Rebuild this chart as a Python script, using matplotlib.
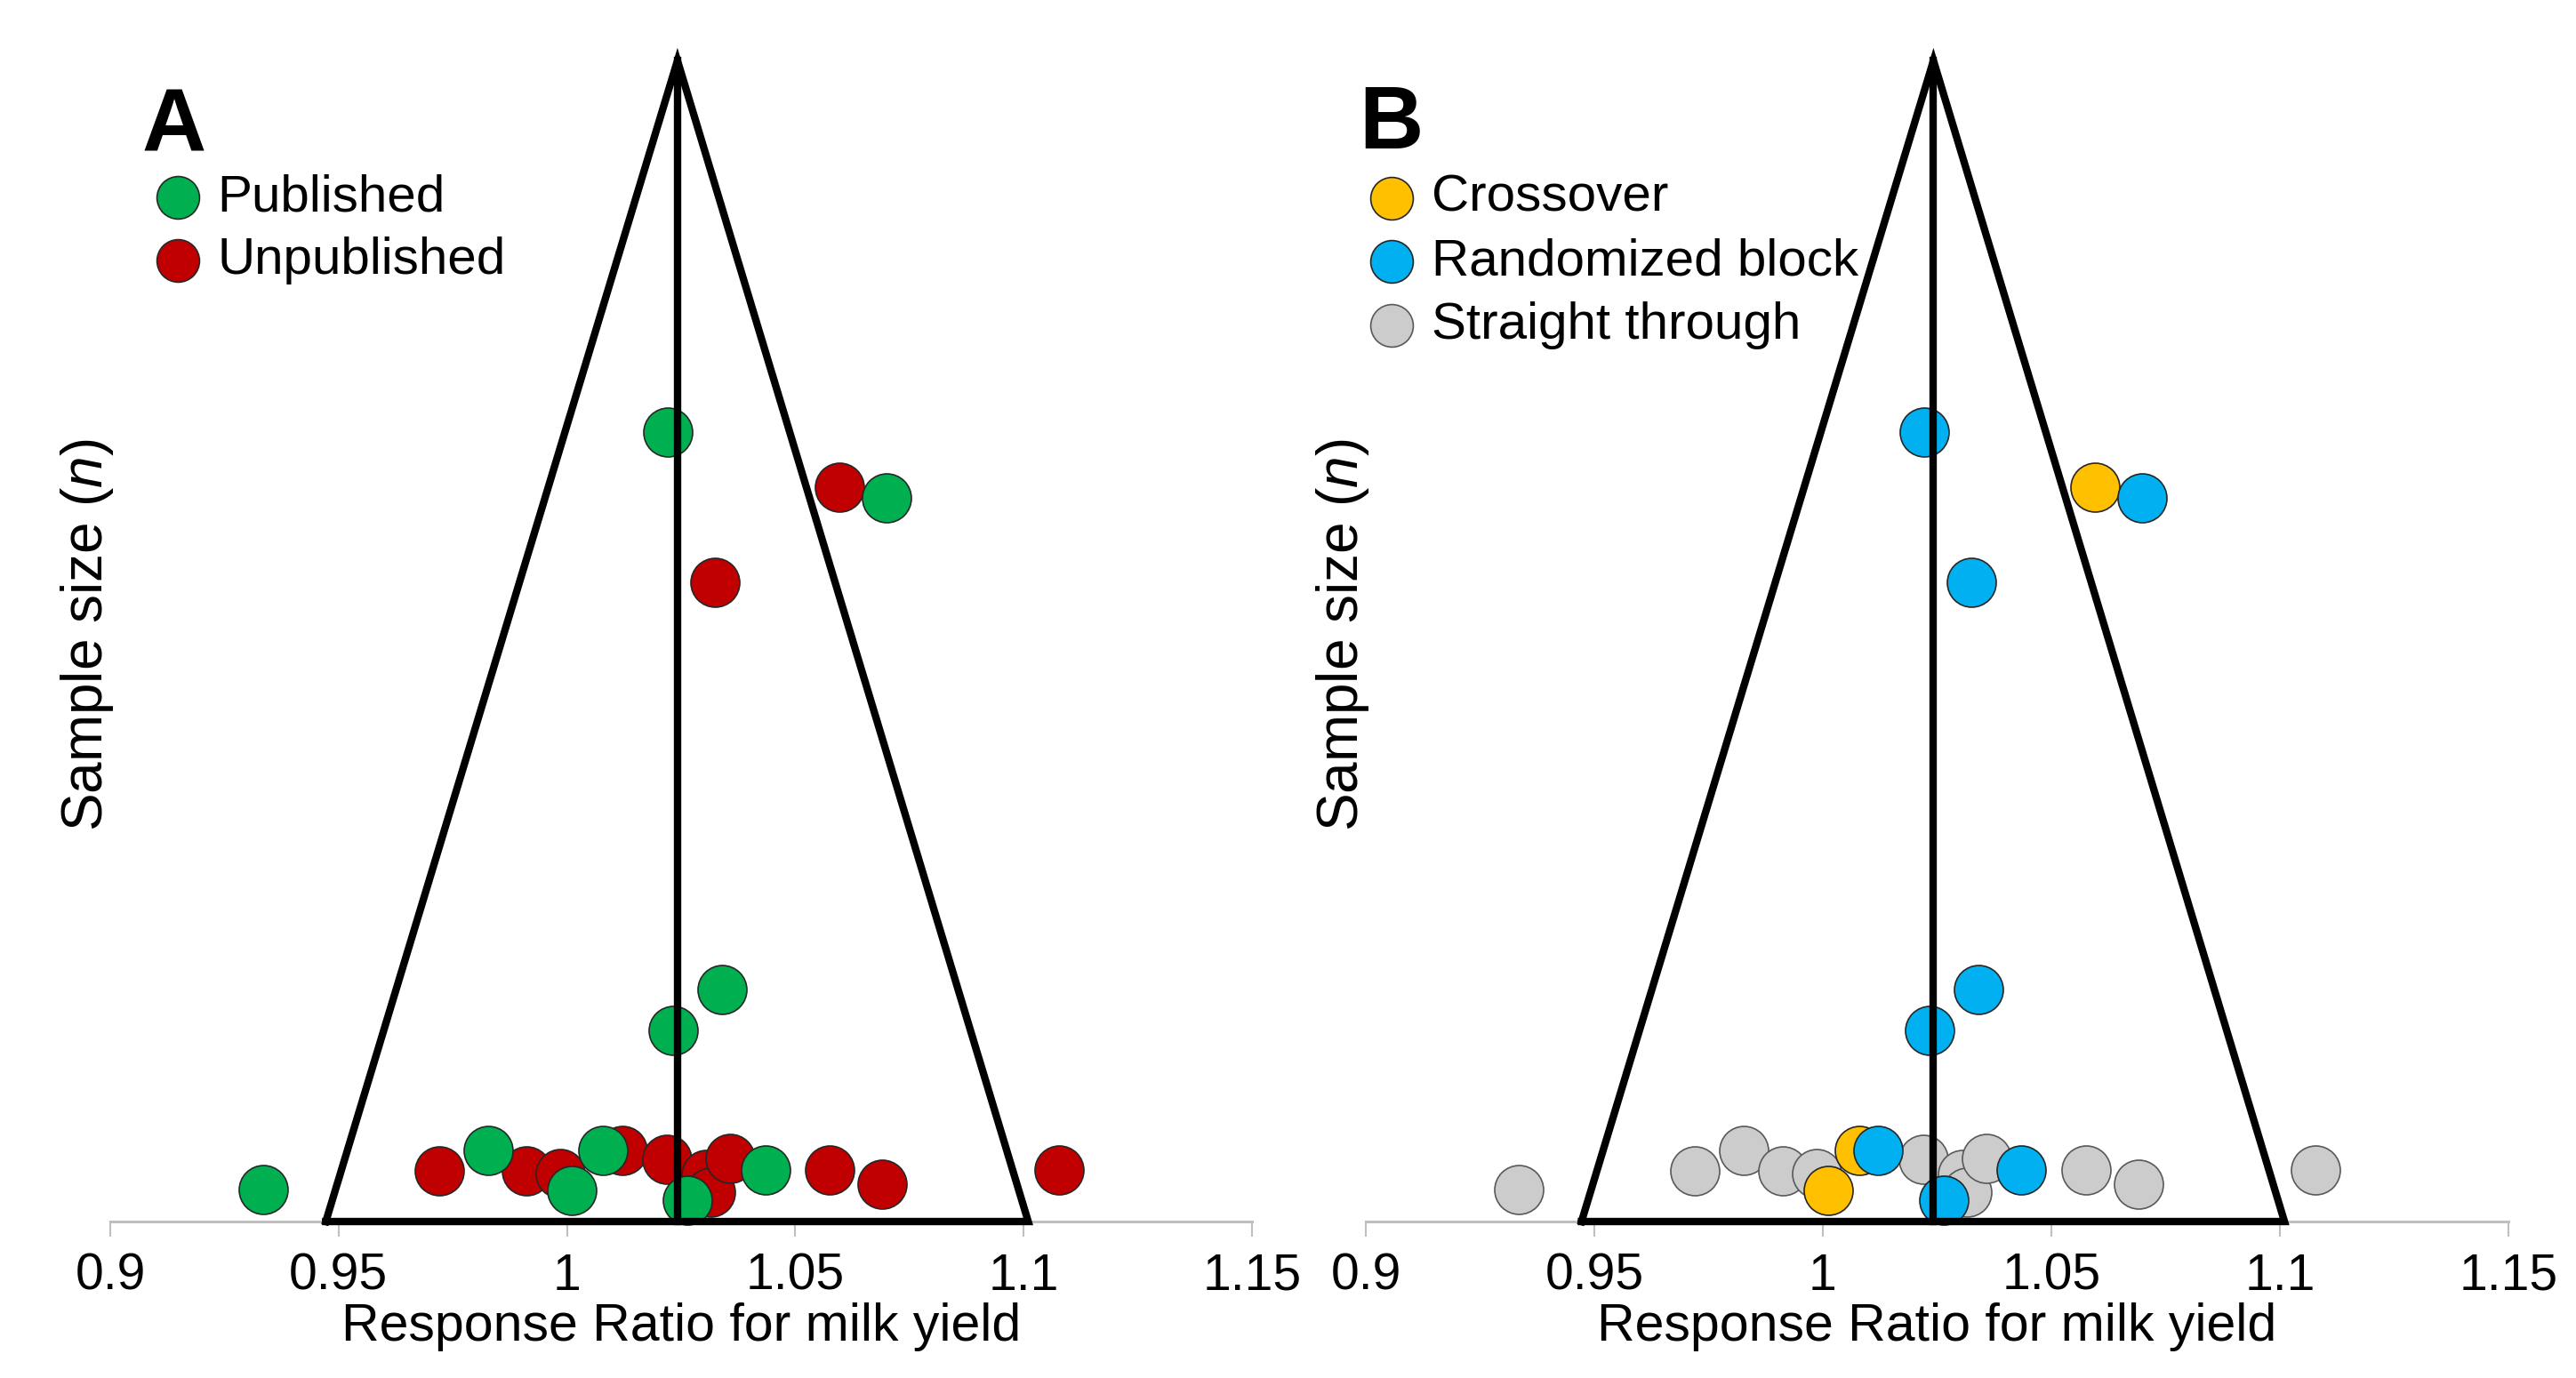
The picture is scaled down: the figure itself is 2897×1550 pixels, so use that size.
import matplotlib
matplotlib.use("Agg")
import matplotlib.pyplot as plt

# ---------------- data ----------------
rr = [1.0221, 1.0596, 1.0699, 1.0324, 1.0340, 1.0233,
      0.9334, 0.9827, 1.0011, 1.0079, 1.0264, 1.0434,
      0.9720, 0.9912, 0.9986, 1.0121, 1.0219, 1.0305, 1.0315, 1.0358,
      1.0576, 1.0691, 1.1078]
n = [67.3, 62.6, 61.7, 54.5, 19.8, 16.3,
     2.7, 6.1, 2.65, 6.1, 1.8, 4.4,
     4.3, 4.3, 4.1, 6.1, 5.3, 4.0, 2.5, 5.4,
     4.4, 3.2, 4.4]
publication = ["Published", "Unpublished", "Published", "Unpublished", "Published", "Published",
               "Published", "Published", "Published", "Published", "Published", "Published",
               "Unpublished", "Unpublished", "Unpublished", "Unpublished", "Unpublished",
               "Unpublished", "Unpublished", "Unpublished", "Unpublished", "Unpublished",
               "Unpublished"]
design = ["Randomized block", "Crossover", "Randomized block", "Randomized block",
          "Randomized block", "Randomized block",
          "Straight through", "Straight through", "Crossover", "Crossover",
          "Randomized block", "Randomized block",
          "Straight through", "Straight through", "Straight through", "Randomized block",
          "Straight through", "Straight through", "Straight through", "Straight through",
          "Straight through", "Straight through", "Straight through"]

# funnel (pooled estimate and limits at the base)
funnel_center = 1.0242
funnel_low = 0.9472
funnel_high = 1.1010
funnel_top = 99.0

xticks = [0.9, 0.95, 1.0, 1.05, 1.1, 1.15]
xtick_labels = ["0.9", "0.95", "1", "1.05", "1.1", "1.15"]

pub_order = ["Unpublished", "Published"]
pub_legend = ["Published", "Unpublished"]
pub_colors = {"Published": "#00B050", "Unpublished": "#C00000"}

des_order = ["Straight through", "Crossover", "Randomized block"]
des_legend = ["Crossover", "Randomized block", "Straight through"]
des_colors = {"Crossover": "#FFC000", "Randomized block": "#00B0F0",
              "Straight through": "#CCCCCC"}

# ---------------- style ----------------
plt.rcParams["font.family"] = ["Liberation Sans", "DejaVu Sans"]
plt.rcParams["mathtext.fontset"] = "custom"
plt.rcParams["mathtext.rm"] = "Liberation Sans"
plt.rcParams["mathtext.it"] = "Liberation Sans:italic"

W, H = 2897, 1550
fig = plt.figure(figsize=(W / 100, H / 100), dpi=100)
axA = fig.add_axes([124 / W, 176 / H, 1284 / W, 1319 / H])
axB = fig.add_axes([1536 / W, 176 / H, 1285 / W, 1319 / H])

MS = 1568  # marker area in pt^2


def setup(ax):
    ax.set_xlim(0.9, 1.15)
    ax.set_ylim(0, 100)
    for s in ["top", "right", "left"]:
        ax.spines[s].set_visible(False)
    ax.spines["bottom"].set_color("#BFBFBF")
    ax.spines["bottom"].set_linewidth(2.2)
    ax.set_yticks([])
    ax.set_xticks(xticks)
    ax.set_xticklabels(xtick_labels, fontsize=41)
    ax.tick_params(axis="x", direction="out", length=12, width=1.5,
                   color="#BFBFBF", pad=13)
    ax.set_xlabel("Response Ratio for milk yield", fontsize=42.5, labelpad=2)
    ax.set_ylabel("Sample size ($\\mathit{n}$)", fontsize=46)
    ax.yaxis.set_label_coords(0.005, 0.5)
    ax.plot([funnel_low, funnel_center, funnel_high, funnel_low],
            [0, funnel_top, 0, 0], color="black", lw=6,
            solid_joinstyle="miter", clip_on=False, zorder=5)
    ax.plot([funnel_center, funnel_center], [0, funnel_top], color="black",
            lw=6, clip_on=False, zorder=5)


def scatter_groups(ax, key, order, colors):
    handles = {}
    for cat in order:
        xs = [x for x, k in zip(rr, key) if k == cat]
        ys = [y for y, k in zip(n, key) if k == cat]
        edge = "#595959" if cat == "Straight through" else "#262626"
        h = ax.scatter(xs, ys, s=MS, c=colors[cat], edgecolors=edge,
                       linewidths=1.2, clip_on=False, zorder=3, label=cat)
        handles[cat] = h
    return handles


setup(axA)
setup(axB)

hA = scatter_groups(axA, publication, pub_order, pub_colors)
hB = scatter_groups(axB, design, des_order, des_colors)

legA = axA.legend([hA[c] for c in pub_legend], pub_legend, loc="upper left",
                  bbox_to_anchor=(174 / W, 1 - 195 / H),
                  bbox_transform=fig.transFigure, frameon=False, fontsize=42,
                  markerscale=0.87, handlelength=0.9, handletextpad=0.31,
                  labelspacing=0.3, borderpad=0, borderaxespad=0)
legB = axB.legend([hB[c] for c in des_legend], des_legend, loc="upper left",
                  bbox_to_anchor=(1539 / W, 1 - 196 / H),
                  bbox_transform=fig.transFigure, frameon=False, fontsize=42,
                  markerscale=0.87, handlelength=0.9, handletextpad=0.31,
                  labelspacing=0.3, borderpad=0, borderaxespad=0)

fig.text(160 / W, 1 - 170 / H, "A", fontsize=72, fontweight="bold",
         ha="left", va="baseline")
fig.text(1528 / W, 1 - 167 / H, "B", fontsize=72, fontweight="bold",
         ha="left", va="baseline")

fig.savefig("out.png", dpi=100, facecolor="white")
